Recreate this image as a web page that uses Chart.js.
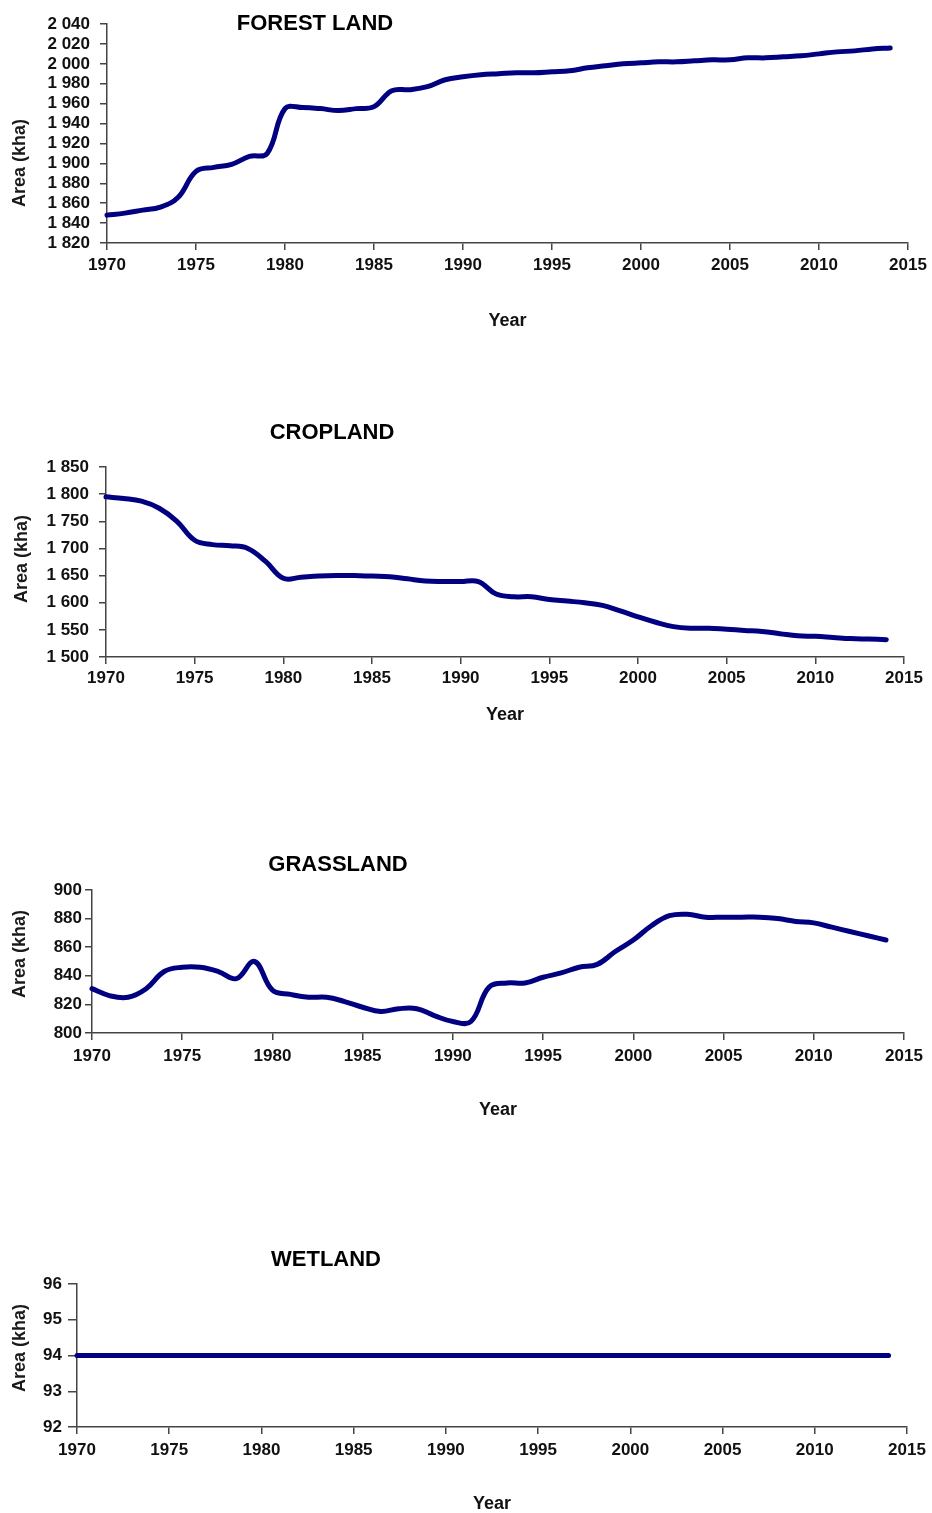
<!DOCTYPE html>
<html>
<head>
<meta charset="utf-8">
<title>Land area by category, 1970–2014</title>
<script src="https://cdn.jsdelivr.net/npm/chart.js@4.4.0/dist/chart.umd.min.js"></script>
<style>
  html, body { margin: 0; padding: 0; background: #fff; overflow: hidden; width: 932px; height: 1513px; }
  canvas.panel { position: absolute; left: 0; }
</style>
</head>
<body>
<canvas id="forest" class="panel"></canvas>
<canvas id="crop" class="panel"></canvas>
<canvas id="grass" class="panel"></canvas>
<canvas id="wet" class="panel"></canvas>
<script>
// ---- data (kha) ----
const years = [
  1970, 1971, 1972, 1973, 1974, 1975, 1976, 1977, 1978, 1979,
  1980, 1981, 1982, 1983, 1984, 1985, 1986, 1987, 1988, 1989,
  1990, 1991, 1992, 1993, 1994, 1995, 1996, 1997, 1998, 1999,
  2000, 2001, 2002, 2003, 2004, 2005, 2006, 2007, 2008, 2009,
  2010, 2011, 2012, 2013, 2014
];

const forestland = [
  1848, 1850, 1853, 1856, 1866, 1892, 1896, 1899, 1907, 1910,
  1955, 1956, 1955, 1953, 1955, 1957, 1973, 1974, 1977, 1984,
  1987, 1989, 1990, 1991, 1991, 1992, 1993, 1996, 1998, 2000,
  2001, 2002, 2002, 2003, 2004, 2004, 2006, 2006, 2007, 2008,
  2010, 2012, 2013, 2015, 2016
];

const cropland = [
  1795, 1792, 1787, 1774, 1750, 1715, 1707, 1705, 1700, 1676,
  1645, 1647, 1649, 1650, 1650, 1649, 1648, 1644, 1640, 1639,
  1639, 1639, 1616, 1611, 1611, 1606, 1603, 1600, 1595, 1585,
  1574, 1564, 1556, 1553, 1553, 1551, 1549, 1547, 1543, 1539,
  1538, 1536, 1534, 1533, 1532
];

const grassland = [
  831, 826, 825, 831, 843, 846, 846, 843, 838, 850,
  830, 827, 825, 825, 822, 818, 815, 817, 817, 812,
  808, 808, 832, 835, 835, 839, 842, 846, 848, 857,
  865, 875, 882, 883, 881, 881, 881, 881, 880, 878,
  877, 874, 871, 868, 865
];

const wetland = [
  94, 94, 94, 94, 94, 94, 94, 94, 94, 94,
  94, 94, 94, 94, 94, 94, 94, 94, 94, 94,
  94, 94, 94, 94, 94, 94, 94, 94, 94, 94,
  94, 94, 94, 94, 94, 94, 94, 94, 94, 94,
  94, 94, 94, 94, 94
];

// axis ranges and tick steps
const forestAxis = [1820, 2040, 20];
const cropAxis   = [1500, 1850, 50];
const grassAxis  = [800, 900, 20];
const wetAxis    = [92, 96, 1];
const yearAxis   = [1970, 2015, 5];

// ---- appearance ----
const FONT = '"Liberation Sans", Arial, Helvetica, sans-serif';
const LINE_COLOR = '#000080';
const AXIS_COLOR = '#444';

// heading and rotated side label for each panel
const panelText = {
  id: 'panelText',
  afterDraw(chart, args, o) {
    const ctx = chart.ctx;
    ctx.save();
    ctx.fillStyle = '#000';
    ctx.textAlign = 'center';
    ctx.textBaseline = 'middle';
    ctx.font = 'bold 22px ' + FONT;
    ctx.fillText(o.heading, o.headingX, o.headingY);
    ctx.fillStyle = '#1a1a1a';
    ctx.font = 'bold 18px ' + FONT;
    ctx.translate(o.sideX, o.sideY);
    ctx.rotate(-Math.PI / 2);
    ctx.fillText(o.side, 0, 0);
    ctx.restore();
  }
};

function spaced(v) {
  const s = String(Math.round(v));
  return s.length > 3 ? s.slice(0, s.length - 3) + ' ' + s.slice(-3) : s;
}

function makePanel(id, p) {
  const canvas = document.getElementById(id);
  canvas.width = 932;
  canvas.height = p.h;
  canvas.style.top = p.top + 'px';
  canvas.style.width = '932px';
  canvas.style.height = p.h + 'px';

  const points = years.map((yr, i) => ({ x: yr, y: p.values[i] }));

  return new Chart(canvas, {
    type: 'line',
    data: {
      datasets: [{
        data: points,
        borderColor: LINE_COLOR,
        borderWidth: 5,
        borderCapStyle: 'round',
        borderJoinStyle: 'round',
        pointRadius: 0,
        tension: 0.4,
        clip: false
      }]
    },
    options: {
      responsive: false,
      animation: false,
      devicePixelRatio: 1,
      events: [],
      layout: { padding: { left: 0, top: p.area.top, right: 932 - p.area.right, bottom: 0 } },
      plugins: {
        legend: { display: false },
        tooltip: { enabled: false },
        panelText: {
          heading: p.heading, headingX: p.headingX, headingY: p.headingY,
          side: 'Area (kha)', sideX: p.sideX, sideY: p.sideY
        }
      },
      scales: {
        x: {
          type: 'linear',
          min: yearAxis[0], max: yearAxis[1],
          afterFit(s) { s.height = p.h - p.area.bottom; },
          grid: { display: true, drawOnChartArea: false, drawTicks: true, tickLength: 7, color: AXIS_COLOR, lineWidth: 1.5 },
          border: { display: true, color: AXIS_COLOR, width: 1.5 },
          ticks: {
            stepSize: yearAxis[2],
            autoSkip: false,
            maxRotation: 0,
            padding: p.xPad,
            color: '#111',
            font: { family: FONT, size: 17, weight: 'bold' },
            callback: v => String(v)
          },
          title: {
            display: true, text: 'Year', color: '#111',
            font: { family: FONT, size: 18, weight: 'bold' },
            padding: { top: 0, bottom: p.titlePad }
          }
        },
        y: {
          min: p.axis[0], max: p.axis[1],
          afterFit(s) { s.width = p.area.left; },
          grid: { display: true, drawOnChartArea: false, drawTicks: true, tickLength: p.yTick, color: AXIS_COLOR, lineWidth: 1.5 },
          border: { display: true, color: AXIS_COLOR, width: 1.5 },
          ticks: {
            stepSize: p.axis[2],
            autoSkip: false,
            padding: p.yPad,
            color: '#111',
            font: { family: FONT, size: 17, weight: 'bold' },
            callback: v => spaced(v)
          }
        }
      }
    },
    plugins: [panelText]
  });
}

makePanel('forest', {
  top: 0, h: 340, values: forestland, axis: forestAxis,
  area: { left: 107, right: 908, top: 24, bottom: 243 },
  yTick: 7, yPad: 10, xPad: 5, titlePad: 8,
  heading: 'FOREST LAND', headingX: 315, headingY: 24,
  sideX: 20, sideY: 163
});

makePanel('crop', {
  top: 410, h: 320, values: cropland, axis: cropAxis,
  area: { left: 106, right: 904, top: 57, bottom: 247 },
  yTick: 7, yPad: 10, xPad: 4, titlePad: 4,
  heading: 'CROPLAND', headingX: 332, headingY: 23,
  sideX: 22, sideY: 149
});

makePanel('grass', {
  top: 840, h: 290, values: grassland, axis: grassAxis,
  area: { left: 92, right: 904, top: 50, bottom: 193 },
  yTick: 7, yPad: 3, xPad: 6, titlePad: 9,
  heading: 'GRASSLAND', headingX: 338, headingY: 25,
  sideX: 20, sideY: 114
});

makePanel('wet', {
  top: 1230, h: 290, values: wetland, axis: wetAxis,
  area: { left: 77, right: 907, top: 54, bottom: 197 },
  yTick: 9, yPad: 6, xPad: 6, titlePad: 5,
  heading: 'WETLAND', headingX: 326, headingY: 30,
  sideX: 20, sideY: 118
});
</script>
</body>
</html>
